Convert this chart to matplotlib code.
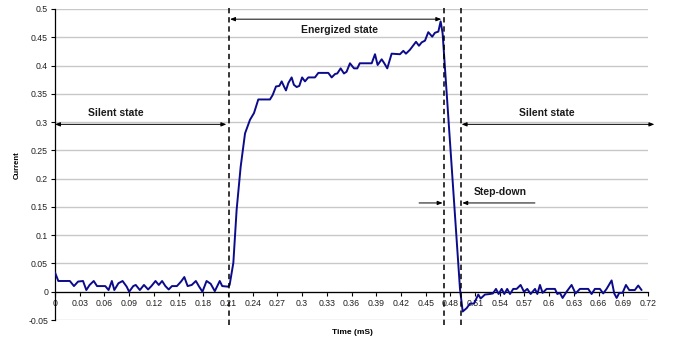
import numpy as np
import matplotlib
matplotlib.use("Agg")
import matplotlib.pyplot as plt
from matplotlib.ticker import MultipleLocator, FuncFormatter

plt.rcParams['font.family'] = ['Liberation Sans', 'DejaVu Sans']

# Measured coil current (A) against time (ms)
time_ms = [
    0.000, 0.004, 0.018, 0.023, 0.028, 0.034, 0.038, 0.042, 0.047, 0.051,
    0.061, 0.065, 0.069, 0.072, 0.077, 0.082, 0.087, 0.090, 0.095, 0.098,
    0.103, 0.108, 0.113, 0.117, 0.122, 0.126, 0.130, 0.134, 0.138, 0.142,
    0.148, 0.153, 0.157, 0.161, 0.166, 0.171, 0.175, 0.179, 0.184, 0.189,
    0.194, 0.200, 0.203, 0.210,
    0.212, 0.2165, 0.2205, 0.2254, 0.2307, 0.2367, 0.2416, 0.2468, 0.261, 0.2643,
    0.2683, 0.2723, 0.2752, 0.278, 0.2804, 0.2833, 0.2873, 0.290, 0.2934, 0.2966,
    0.300, 0.3035, 0.3075, 0.3156, 0.3197, 0.3318, 0.3359, 0.340, 0.3427, 0.3468,
    0.3508, 0.354, 0.3581, 0.363, 0.367, 0.370, 0.3845, 0.3885, 0.3917, 0.3966,
    0.3998, 0.4034, 0.4087, 0.4188, 0.4229, 0.4261, 0.431, 0.4383, 0.4419, 0.4452,
    0.4492, 0.4532, 0.458, 0.4613, 0.4654, 0.4682, 0.4706,
    0.4917, 0.4950, 0.4998, 0.5038, 0.5087, 0.5139, 0.5168, 0.522, 0.528, 0.5317,
    0.5354, 0.5386, 0.5423, 0.5455, 0.549, 0.5524, 0.5564, 0.5605, 0.5653, 0.5694,
    0.5734, 0.5775, 0.5828, 0.5856, 0.5888, 0.592, 0.5969, 0.607, 0.6099, 0.613,
    0.6163, 0.6211, 0.6272, 0.632, 0.6373, 0.6474, 0.6515, 0.6555, 0.6616, 0.6656,
    0.6697, 0.6758, 0.679, 0.6819, 0.6851, 0.6891, 0.6932, 0.6972, 0.704, 0.7081,
    0.7122,
]
current = [
    0.034, 0.019, 0.019, 0.010, 0.018, 0.019, 0.003, 0.012, 0.019, 0.010,
    0.010, 0.003, 0.019, 0.003, 0.015, 0.019, 0.009, 0.000, 0.010, 0.012,
    0.003, 0.012, 0.004, 0.010, 0.019, 0.012, 0.019, 0.010, 0.004, 0.010,
    0.010, 0.018, 0.026, 0.010, 0.012, 0.019, 0.009, 0.000, 0.019, 0.014,
    0.001, 0.019, 0.010, 0.009,
    0.012, 0.051, 0.145, 0.221, 0.280, 0.304, 0.316, 0.340, 0.340, 0.348,
    0.363, 0.364, 0.372, 0.363, 0.356, 0.369, 0.379, 0.366, 0.362, 0.364,
    0.379, 0.372, 0.379, 0.379, 0.387, 0.387, 0.379, 0.385, 0.386, 0.395,
    0.386, 0.389, 0.404, 0.395, 0.395, 0.404, 0.404, 0.420, 0.401, 0.411,
    0.404, 0.395, 0.421, 0.420, 0.426, 0.421, 0.428, 0.442, 0.435, 0.441,
    0.444, 0.459, 0.451, 0.458, 0.460, 0.478, 0.457,
    0.005, -0.035, -0.029, -0.021, -0.021, -0.005, -0.012, -0.005, -0.004, -0.003,
    0.005, -0.004, 0.005, -0.004, 0.005, -0.004, 0.005, 0.005, 0.012, 0.000,
    0.005, -0.004, 0.005, -0.004, 0.012, -0.002, 0.005, 0.005, -0.004, -0.002,
    -0.011, 0.000, 0.012, -0.003, 0.005, 0.005, -0.004, 0.005, 0.005, -0.003,
    0.005, 0.020, -0.003, -0.011, -0.002, -0.002, 0.012, 0.003, 0.003, 0.011,
    0.003,
]

# State boundaries (ms)
boundaries = [0.2113, 0.4728, 0.4933]

fig = plt.figure(figsize=(6.76, 3.42), dpi=100)
ax = fig.add_axes([0.0814, 0.0643, 0.8772, 0.9094])

ax.set_xlim(0, 0.72)
ax.set_ylim(-0.05, 0.5)
ax.xaxis.set_major_locator(MultipleLocator(0.03))
ax.yaxis.set_major_locator(MultipleLocator(0.05))

def fmt(v, pos):
    s = f"{v:.2f}".rstrip('0').rstrip('.')
    if s in ("-0", ""):
        s = "0"
    return s

ax.xaxis.set_major_formatter(FuncFormatter(fmt))
ax.yaxis.set_major_formatter(FuncFormatter(fmt))

ax.grid(axis='y', color='#c8c8c8', linewidth=1.0)
ax.set_axisbelow(True)
for s in ('top', 'right'):
    ax.spines[s].set_visible(False)
ax.spines['bottom'].set_position(('data', 0))
ax.spines['bottom'].set_linewidth(0.9)
ax.spines['left'].set_linewidth(0.9)
ax.tick_params(axis='both', labelsize=6.3, length=3, width=0.8, pad=2,
               colors='black', labelcolor='#222222')

ax.plot(time_ms, current, color='#0b0b8c', linewidth=1.4, zorder=3,
        solid_joinstyle='round', solid_capstyle='round')

for b in boundaries:
    ax.plot([b, b], [-0.059, 0.505], color='black', linewidth=1.1,
            linestyle=(0, (3.5, 2.5)), clip_on=False, zorder=4)

arrow_kw = dict(arrowstyle='<|-|>,head_length=0.5,head_width=0.2',
                color='black', linewidth=0.7, shrinkA=0, shrinkB=0,
                mutation_scale=6)
single_kw = dict(arrow_kw, arrowstyle='-|>,head_length=0.5,head_width=0.2')

ax.annotate('', xy=(0.208, 0.296), xytext=(0.0, 0.296),
            arrowprops=arrow_kw, annotation_clip=False)
ax.annotate('', xy=(0.469, 0.482), xytext=(0.2125, 0.482),
            arrowprops=arrow_kw, annotation_clip=False)
ax.annotate('', xy=(0.7277, 0.296), xytext=(0.4937, 0.296),
            arrowprops=arrow_kw, annotation_clip=False)
ax.annotate('', xy=(0.4706, 0.157), xytext=(0.442, 0.157),
            arrowprops=single_kw, annotation_clip=False)
ax.annotate('', xy=(0.4945, 0.157), xytext=(0.5827, 0.157),
            arrowprops=single_kw, annotation_clip=False)

txt_kw = dict(fontsize=7.5, fontweight='bold', ha='center', va='center',
              color='#1a1a1a')
ax.text(0.074, 0.316, 'Silent state', **txt_kw)
ax.text(0.345, 0.4635, 'Energized state', **txt_kw)
ax.text(0.597, 0.316, 'Silent state', **txt_kw)
ax.text(0.540, 0.177, 'Step-down', **txt_kw)

fig.text(17 / 676, 1 - 165 / 342, 'Current', rotation=90, fontsize=5.5,
         fontweight='bold', ha='center', va='center')
fig.text(352 / 676, 1 - 333 / 342, 'Time (mS)', fontsize=6,
         fontweight='bold', ha='center', va='center')

fig.savefig('out.png', dpi=100)
